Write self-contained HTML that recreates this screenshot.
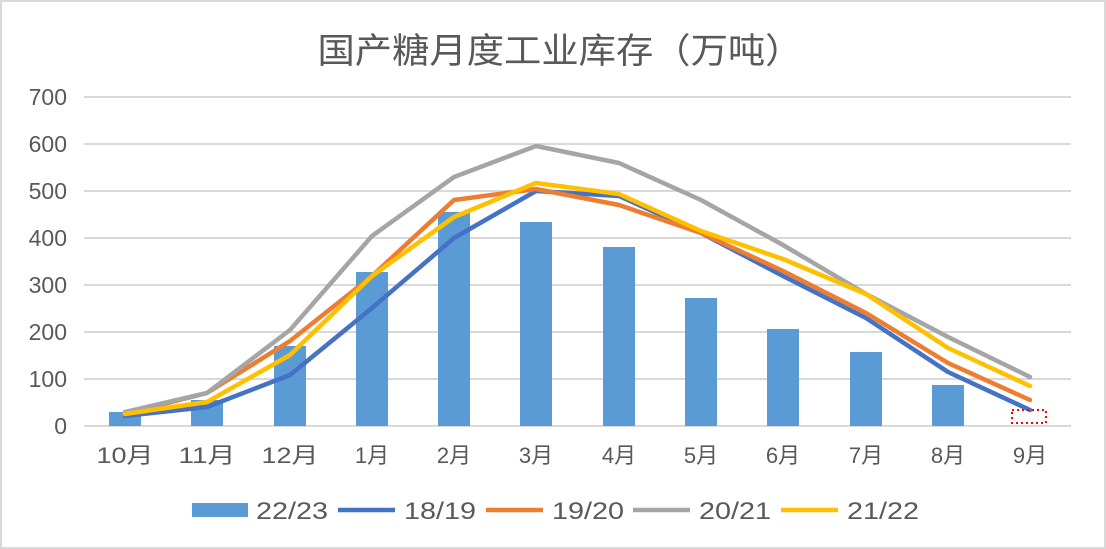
<!DOCTYPE html>
<html><head><meta charset="utf-8"><style>
body{margin:0;background:#fff;}
svg{display:block;font-family:"Liberation Sans","Noto Sans CJK SC",sans-serif;}
</style></head><body>
<svg width="1106" height="549" viewBox="0 0 1106 549">
<rect x="1" y="1" width="1104" height="547" fill="#fff" stroke="#d9d9d9" stroke-width="2"/>
<text x="560" y="63" text-anchor="middle" font-size="35" fill="#595959" textLength="485" lengthAdjust="spacingAndGlyphs">国产糖月度工业库存（万吨）</text>
<g stroke="#d9d9d9" stroke-width="2">
<line x1="84" x2="1071" y1="97" y2="97"/><line x1="84" x2="1071" y1="144" y2="144"/>
<line x1="84" x2="1071" y1="191" y2="191"/><line x1="84" x2="1071" y1="238" y2="238"/>
<line x1="84" x2="1071" y1="285" y2="285"/><line x1="84" x2="1071" y1="332" y2="332"/>
<line x1="84" x2="1071" y1="379" y2="379"/><line x1="84" x2="1071" y1="426" y2="426"/>
</g>
<g font-size="23" fill="#595959" text-anchor="end">
<text x="67" y="105">700</text><text x="67" y="152">600</text><text x="67" y="199">500</text>
<text x="67" y="246">400</text><text x="67" y="293">300</text><text x="67" y="340">200</text>
<text x="67" y="387">100</text><text x="67" y="434">0</text>
</g>
<g fill="#5b9bd5">
<rect x="109" y="412" width="32" height="14"/>
<rect x="191" y="400" width="32" height="26"/>
<rect x="274" y="346" width="32" height="80"/>
<rect x="356" y="272" width="32" height="154"/>
<rect x="438" y="212" width="32" height="214"/>
<rect x="520" y="222" width="32" height="204"/>
<rect x="603" y="247" width="32" height="179"/>
<rect x="685" y="298" width="32" height="128"/>
<rect x="767" y="329" width="32" height="97"/>
<rect x="850" y="352" width="32" height="74"/>
<rect x="932" y="385" width="32" height="41"/>
</g>
<g fill="none" stroke-width="4.5" stroke-linejoin="round" stroke-linecap="round">
<polyline stroke="#4472c4" points="125,416 207,407 290,375 372,308 454,238 536,191 619,196 701,233 783,276 866,318 948,372 1030,410"/>
<polyline stroke="#ed7d31" points="125,414 207,393 290,341 372,276 454,200 536,189 619,205 701,233 783,271 866,313 948,363 1030,400"/>
<polyline stroke="#a5a5a5" points="125,412 207,393 290,330 372,236 454,177 536,146 619,163 701,200 783,245 866,294 948,337 1030,377"/>
<polyline stroke="#ffc000" points="125,414 207,402 290,355 372,276 454,217 536,183 619,194 701,231 783,259 866,294 948,348 1030,386"/>
</g>
<rect x="1012" y="410" width="34" height="13" fill="none" stroke="#ff0000" stroke-width="2" stroke-dasharray="2,3"/>
<g font-size="22" fill="#595959" text-anchor="middle">
<text x="125" y="463" textLength="57" lengthAdjust="spacingAndGlyphs">10月</text><text x="207" y="463" textLength="57" lengthAdjust="spacingAndGlyphs">11月</text><text x="290" y="463" textLength="57" lengthAdjust="spacingAndGlyphs">12月</text>
<text x="372" y="463">1月</text><text x="454" y="463">2月</text><text x="536" y="463">3月</text>
<text x="619" y="463">4月</text><text x="701" y="463">5月</text><text x="783" y="463">6月</text>
<text x="866" y="463">7月</text><text x="948" y="463">8月</text><text x="1030" y="463">9月</text>
</g>
<g font-size="24" fill="#595959">
<rect x="192" y="503" width="56" height="14" fill="#5b9bd5"/><text x="256" y="519" textLength="72" lengthAdjust="spacingAndGlyphs">22/23</text>
<line x1="338" x2="395" y1="510" y2="510" stroke="#4472c4" stroke-width="4.5"/><text x="404" y="519" textLength="72" lengthAdjust="spacingAndGlyphs">18/19</text>
<line x1="486" x2="543" y1="510" y2="510" stroke="#ed7d31" stroke-width="4.5"/><text x="552" y="519" textLength="72" lengthAdjust="spacingAndGlyphs">19/20</text>
<line x1="633" x2="690" y1="510" y2="510" stroke="#a5a5a5" stroke-width="4.5"/><text x="699" y="519" textLength="72" lengthAdjust="spacingAndGlyphs">20/21</text>
<line x1="781" x2="838" y1="510" y2="510" stroke="#ffc000" stroke-width="4.5"/><text x="847" y="519" textLength="72" lengthAdjust="spacingAndGlyphs">21/22</text>
</g>
</svg>
</body></html>
